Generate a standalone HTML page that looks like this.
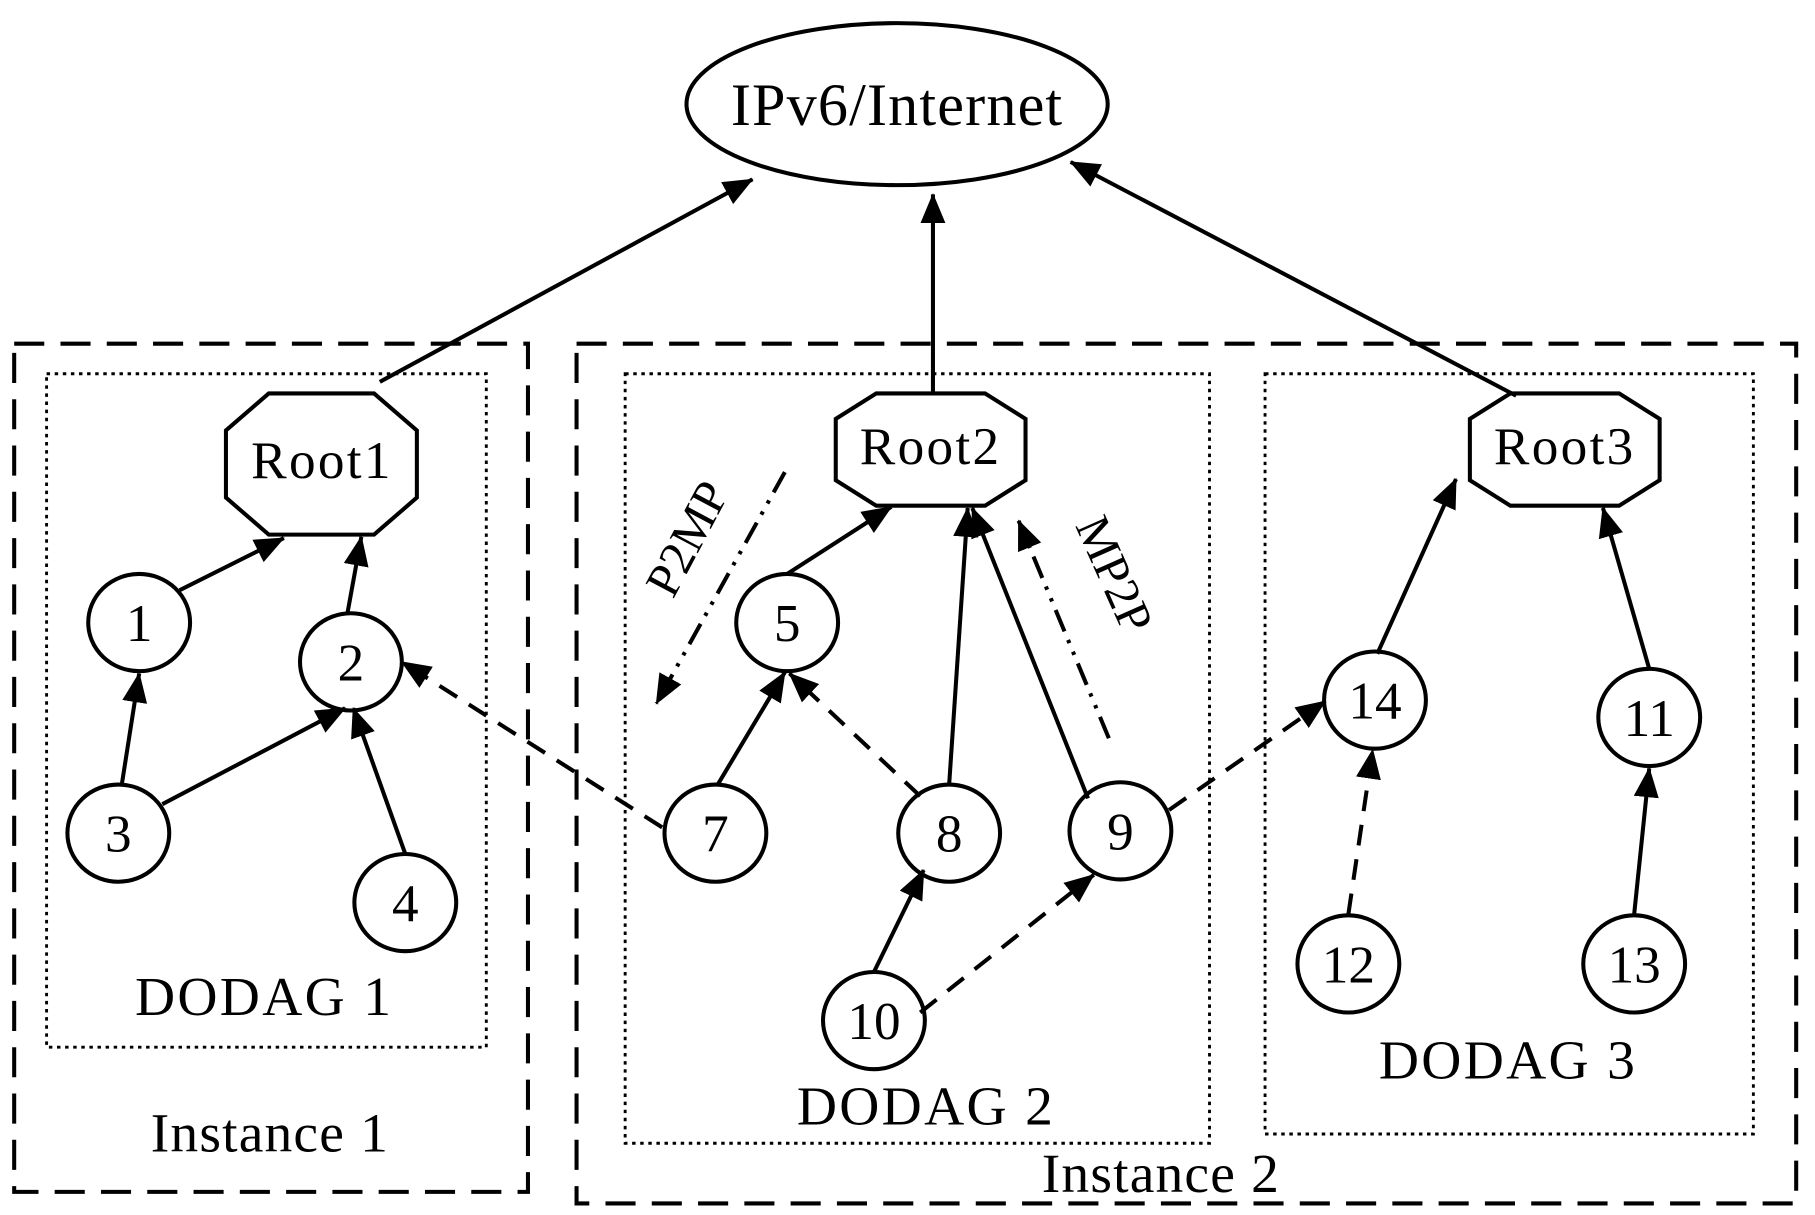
<!DOCTYPE html>
<html><head><meta charset="utf-8"><style>
html,body{margin:0;padding:0;background:#fff;}
svg{display:block;}
text{font-family:"Liberation Serif",serif;fill:#000;}
</style></head><body>
<svg width="1815" height="1215" viewBox="0 0 1568 1050" xmlns="http://www.w3.org/2000/svg">
<defs>
<marker id="ah" viewBox="0 0 24 20" refX="23" refY="10" markerWidth="26" markerHeight="22" markerUnits="userSpaceOnUse" orient="auto"><path d="M0,0 L24,10 L0,20 Z" fill="#000"/></marker>
</defs>
<rect width="1568" height="1050" fill="#fff"/>
<g fill="none" stroke="#000" stroke-width="3.5">
<rect x="12" y="297" width="444" height="733" stroke-dasharray="26,14"/>
<rect x="498" y="297" width="1054" height="743" stroke-dasharray="26,14"/>
<rect x="40" y="323" width="380" height="582" stroke-dasharray="3,4" stroke-width="2.5"/>
<rect x="540" y="323" width="505" height="665" stroke-dasharray="3,4" stroke-width="2.5"/>
<rect x="1093" y="323" width="422" height="657" stroke-dasharray="3,4" stroke-width="2.5"/>
<ellipse cx="775" cy="90" rx="182" ry="70"/>
<polygon points="232,340 323,340 360,372 360,430 323,462 232,462 195,430 195,372"/>
<polygon points="757,340 851,340 886,362 886,415 851,437 757,437 722,415 722,362"/>
<polygon points="1305,340 1399,340 1434,362 1434,415 1399,437 1305,437 1270,415 1270,362"/>
<g marker-end="url(#ah)">
<line x1="328" y1="330" x2="650" y2="155"/>
<line x1="806" y1="340" x2="806" y2="168"/>
<line x1="1310" y1="342" x2="925" y2="140"/>
<line x1="155" y1="510" x2="245" y2="465"/>
<line x1="300" y1="530" x2="312" y2="464"/>
<line x1="105" y1="678" x2="120" y2="582"/>
<line x1="140" y1="695" x2="298" y2="612"/>
<line x1="350" y1="738" x2="305" y2="612"/>
<line x1="680" y1="496" x2="770" y2="438"/>
<line x1="620" y1="678" x2="678" y2="581"/>
<line x1="820" y1="678" x2="836" y2="439"/>
<line x1="940" y1="690" x2="840" y2="439"/>
<line x1="755" y1="840" x2="798" y2="752"/>
<line x1="1190" y1="565" x2="1258" y2="414"/>
<line x1="1425" y1="578" x2="1385" y2="439"/>
<line x1="1412" y1="790" x2="1425" y2="664"/>
</g>
<g marker-end="url(#ah)" stroke-dasharray="18,12">
<line x1="572" y1="715" x2="347" y2="572"/>
<line x1="795" y1="688" x2="682" y2="582"/>
<line x1="795" y1="875" x2="945" y2="756"/>
<line x1="1010" y1="700" x2="1145" y2="606"/>
<line x1="1165" y1="790" x2="1186" y2="648"/>
</g>
<g marker-end="url(#ah)" stroke-dasharray="20,8,3,8,3,8">
<line x1="678" y1="408" x2="567" y2="608"/>
<line x1="958" y1="638" x2="880" y2="450"/>
</g>
<ellipse cx="120" cy="538" rx="44" ry="42"/>
<ellipse cx="303" cy="572" rx="44" ry="42"/>
<ellipse cx="102" cy="720" rx="44" ry="42"/>
<ellipse cx="350" cy="780" rx="44" ry="42"/>
<ellipse cx="680" cy="538" rx="44" ry="42"/>
<ellipse cx="618" cy="720" rx="44" ry="42"/>
<ellipse cx="820" cy="720" rx="44" ry="42"/>
<ellipse cx="968" cy="718" rx="44" ry="42"/>
<ellipse cx="755" cy="882" rx="44" ry="42"/>
<ellipse cx="1188" cy="605" rx="44" ry="42"/>
<ellipse cx="1425" cy="620" rx="44" ry="42"/>
<ellipse cx="1165" cy="833" rx="44" ry="42"/>
<ellipse cx="1412" cy="833" rx="44" ry="42"/>
</g>
<g text-anchor="middle" font-size="46">
<text x="775" y="108" font-size="52" letter-spacing="1">IPv6/Internet</text>
<text x="278" y="413" font-size="46" letter-spacing="2">Root1</text>
<text x="804" y="401" font-size="46" letter-spacing="2">Root2</text>
<text x="1352" y="401" font-size="46" letter-spacing="2">Root3</text>
<text x="120" y="554">1</text>
<text x="303" y="588">2</text>
<text x="102" y="736">3</text>
<text x="350" y="796">4</text>
<text x="680" y="554">5</text>
<text x="618" y="736">7</text>
<text x="820" y="736">8</text>
<text x="968" y="734">9</text>
<text x="755" y="898">10</text>
<text x="1188" y="621">14</text>
<text x="1425" y="636">11</text>
<text x="1165" y="849">12</text>
<text x="1412" y="849">13</text>
<text x="228" y="877" font-size="48" letter-spacing="2">DODAG 1</text>
<text x="800" y="972" font-size="48" letter-spacing="2">DODAG 2</text>
<text x="1303" y="932" font-size="48" letter-spacing="2">DODAG 3</text>
<text x="233" y="995" font-size="48" letter-spacing="1">Instance 1</text>
<text x="1003" y="1030" font-size="48" letter-spacing="1">Instance 2</text>
<text transform="translate(606,472) rotate(-62)" font-size="42">P2MP</text>
<text transform="translate(950,502) rotate(66)" font-size="42">MP2P</text>
</g>
</svg>
</body></html>
